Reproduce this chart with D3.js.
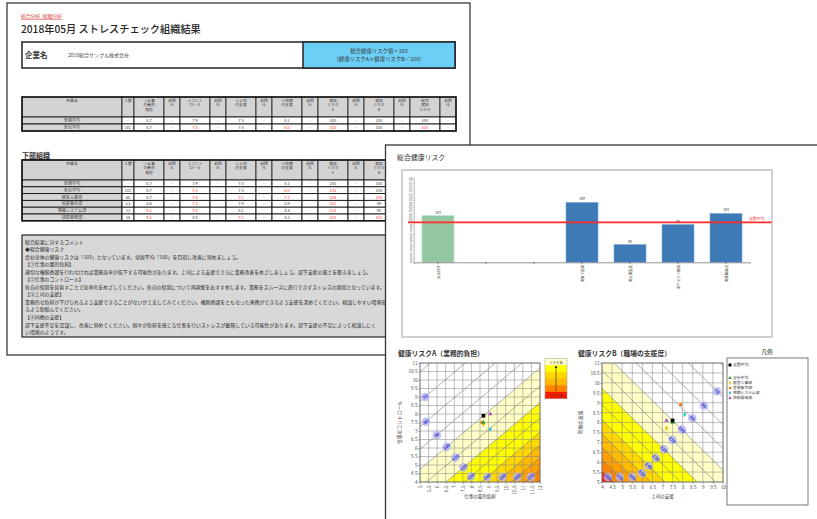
<!DOCTYPE html>
<html>
<head>
<meta charset="utf-8">
<script src="https://cdn.jsdelivr.net/npm/d3@7"></script>
<style>
  body { margin: 0; background: #ffffff; }
  svg { display: block; font-family: "Noto Sans CJK JP", "Noto Sans", sans-serif; }
</style>
</head>
<body>
<svg id="chart" width="817" height="519"></svg>
<script>
// ---------------- data ----------------
const breadcrumb = "総合分析_組織分析";
const reportTitle = "2018年05月 ストレスチェック組織結果";
const companyName = "2018総合サンプル株式会社";
const companyRisk = 103;

const groups = ["全国平均", "全社平均", "経営人事部", "営業販売部", "情報システム部", "技術開発部"];
const headcount = ["-", "102", "60", "13", "13", "16"];
const demand = [8.7, 8.7, 8.7, 8.6, 9.1, 9.1];       // ①仕事の量的負担
const control = [7.9, 7.5, 7.4, 7.5, 7.1, 8.0];      // ②コントロール
const supervisor = [7.5, 7.5, 7.2, 7.9, 8.1, 7.2];   // ③上司の支援
const coworker = [8.1, 8.0, 7.7, 8.9, 8.4, 8.1];     // ④同僚の支援
const riskA = [100, 103, 104, 102, 110, 103];
const riskB = [100, 100, 105, 89, 90, 102];
const riskTotal = [100, 103, 109, 90, 99, 104];

const headerLines = [
  ["所属名"], ["人数"], ["①仕事", "の量的", "負担"], ["前回", "比"],
  ["②コント", "ロール"], ["前回", "比"], ["③上司", "の支援"], ["前回", "比"],
  ["④同僚", "の支援"], ["前回", "比"], ["健康", "リスク", "A"], ["前回", "比"],
  ["健康", "リスク", "B"], ["前回", "比"], ["総合", "健康", "リスク"], ["前回", "比"]
];

const commentLines = [
  "総合結果に対するコメント",
  "◆総合健康リスク",
  "会社全体の健康リスクは「103」となっています。全国平均「100」を目指し改善に努めましょう。",
  "【①仕事の量的負担】",
  "適切な権限委譲を行わなければ業務効率が低下する可能性があります。上司による支援でさらに業務改善をめざしましょう。部下支援の風土を築きましょう。",
  "【②仕事のコントロール】",
  "各自の役割を見直すことで効率化をめざしてください。各自の役割について再調整をおすすめします。業務をスムーズに遂行できずストレスの原因となっています。",
  "【③上司の支援】",
  "業務的な負担が下げられるよう支援できることがないか工夫してみてください。権限委譲をともなった連携ができるよう支援を深めてください。相談しやすい環境をつく",
  "るよう取組んでください。",
  "【④同僚の支援】",
  "部下支援不足を認識し、改善に努めてください。個々が負担を感じる仕事を行いストレスが蓄積している可能性があります。部下支援の不足によって相談しにく",
  "い環境のようです。"
];

// 総合健康リスク bar chart
const barCategories = ["全社平均", "", "", "経営人事部", "営業販売部", "情報システム部", "技術開発部"];
const barTickValues = d3.range(82, 121, 1);
const nationalLevel = 100;

// stress judgement charts
const riskCoefA = { demand: 0.076, control: 0.089 };
const riskCoefB = { supervisor: 0.097, coworker: 0.097 };
const bandLevels = [100, 120, 140, 150, 160, 170, 180];
const isoLevels = [50, 60, 70, 80, 90, 100, 110, 120, 130, 140, 150, 160, 170, 180, 190, 200];
const isoLabelLevels = [70, 80, 90, 100, 110, 120, 130, 140, 150, 160, 170, 180];
const ticksA_x = d3.range(5, 12.001, 0.5);
const ticksA_y = d3.range(4, 11.001, 0.5);
const ticksB_x = d3.range(4, 10.001, 0.5);
const ticksB_y = d3.range(5, 11.001, 0.5);

// ---------------- styles ----------------
const FONT = '"Noto Sans CJK JP", "Noto Sans", sans-serif';
const bandColors = ["#ffffc6", "#ffff00", "#ffd800", "#ffbb00", "#ff9f00", "#ff8400", "#ff1a00"];
const groupColors = ["#000000", "#2e9a3e", "#e8c000", "#f07a1e", "#2cc3e6", "#b04cc8"];
const groupSymbols = [d3.symbolSquare, d3.symbolTriangle, d3.symbolDiamond, d3.symbolSquare, d3.symbolDiamond, d3.symbolTriangle];

const svg = d3.select("#chart");

// ================= back page: organisation report =================
const p1 = svg.append("g");
p1.append("rect").attr("x", 7).attr("y", 3).attr("width", 463).attr("height", 352)
  .attr("fill", "#ffffff").attr("stroke", "#3a3a3a").attr("stroke-width", 1.3);

p1.append("text").attr("x", 21).attr("y", 18).attr("font-size", 4.8).attr("fill", "#e23a3a")
  .attr("text-decoration", "underline").text(breadcrumb);
p1.append("text").attr("x", 21).attr("y", 33).attr("font-size", 10.2).attr("font-weight", 500)
  .attr("fill", "#262626").text(reportTitle);

// company box
p1.append("rect").attr("x", 22).attr("y", 42).attr("width", 433).attr("height", 26)
  .attr("fill", "#ffffff").attr("stroke", "#222").attr("stroke-width", 1.5);
p1.append("rect").attr("x", 303).attr("y", 42).attr("width", 152).attr("height", 26)
  .attr("fill", "#6ccff6").attr("stroke", "#222").attr("stroke-width", 1.5);
p1.append("text").attr("x", 25).attr("y", 58).attr("font-size", 7.5).attr("font-weight", 700)
  .attr("fill", "#333").text("企業名");
p1.append("text").attr("x", 68).attr("y", 57).attr("font-size", 5).attr("fill", "#444").text(companyName);
p1.append("text").attr("x", 379).attr("y", 53).attr("text-anchor", "middle").attr("font-size", 5.4)
  .attr("fill", "#333").text(`総合健康リスク値 = ${companyRisk}`);
p1.append("text").attr("x", 379).attr("y", 61).attr("text-anchor", "middle").attr("font-size", 5.4)
  .attr("fill", "#333").text("(健康リスクA×健康リスクB／100)");

// tables
const scoreCols = [
  { vals: demand, worse: 1, dec: 1 },
  { vals: control, worse: -1, dec: 1 },
  { vals: supervisor, worse: -1, dec: 1 },
  { vals: coworker, worse: -1, dec: 1 },
  { vals: riskA, worse: 1, dec: 0 },
  { vals: riskB, worse: 1, dec: 0 },
  { vals: riskTotal, worse: 1, dec: 0 }
];
function rowCells(i) {
  const cells = [{ t: groups[i] }, { t: headcount[i] }];
  scoreCols.forEach(c => {
    const v = c.vals[i];
    cells.push({ t: v.toFixed(c.dec), red: i > 0 && (v - c.vals[0]) * c.worse > 0 });
    cells.push({ t: "-" });
  });
  return cells;
}
const colW = [100, 12];
for (let k = 0; k < 7; k++) colW.push(30, 16);
const colX = [22];
colW.forEach(w => colX.push(colX[colX.length - 1] + w));

function drawTable(top, headH, rowH, rows) {
  const g = p1.append("g");
  headerLines.forEach((lines, j) => {
    g.append("rect").attr("x", colX[j]).attr("y", top).attr("width", colW[j]).attr("height", headH)
      .attr("fill", "#d3d3d3").attr("stroke", "#1c1c1c").attr("stroke-width", 0.8);
    lines.forEach((s, k) => g.append("text").attr("x", colX[j] + colW[j] / 2).attr("y", top + 4.6 + k * 4.6)
      .attr("text-anchor", "middle").attr("font-size", 3.8).attr("fill", "#3a3a3a").text(s));
  });
  rows.forEach((ri, r) => {
    const y0 = top + headH + r * rowH;
    rowCells(ri).forEach((c, j) => {
      g.append("rect").attr("x", colX[j]).attr("y", y0).attr("width", colW[j]).attr("height", rowH)
        .attr("fill", j === 0 ? "#d6d6d6" : "#ffffff").attr("stroke", "#111").attr("stroke-width", 0.9);
      g.append("text").attr("x", colX[j] + colW[j] / 2).attr("y", y0 + rowH / 2 + 1.5)
        .attr("text-anchor", "middle").attr("font-size", 4.1)
        .attr("fill", c.red ? "#ff2a2a" : "#3a3a3a").text(c.t);
    });
  });
  g.append("rect").attr("x", colX[0]).attr("y", top).attr("width", colX[colX.length - 1] - colX[0])
    .attr("height", headH + rows.length * rowH).attr("fill", "none").attr("stroke", "#111").attr("stroke-width", 1.5);
}
drawTable(97, 20, 7, [0, 1]);
p1.append("text").attr("x", 22).attr("y", 158).attr("font-size", 7).attr("font-weight", 700)
  .attr("fill", "#333").attr("text-decoration", "underline").text("下部組織");
drawTable(160, 20, 6.8, d3.range(groups.length));

// comment box
p1.append("rect").attr("x", 22).attr("y", 235).attr("width", 433).attr("height", 102)
  .attr("fill", "#d8d8d8").attr("stroke", "#333").attr("stroke-width", 1.3);
p1.selectAll("text.cmt").data(commentLines).join("text").attr("class", "cmt")
  .attr("x", 25).attr("y", (d, i) => 243.5 + i * 7.55).attr("font-size", 4.9).attr("fill", "#2a2a2a").text(d => d);

// ================= front page: charts =================
const p2 = svg.append("g");
p2.append("rect").attr("x", 385.5).attr("y", 145).attr("width", 440).attr("height", 390)
  .attr("fill", "#ffffff").attr("stroke", "#333").attr("stroke-width", 1.3);
p2.append("text").attr("x", 397).attr("y", 160).attr("font-size", 6.9).attr("fill", "#333").text("総合健康リスク");

// ---- bar chart ----
p2.append("rect").attr("x", 402).attr("y", 170).attr("width", 370).attr("height", 167)
  .attr("fill", "#ffffff").attr("stroke", "#c4c4c4").attr("stroke-width", 1.6);

const bx = d3.scaleBand().domain(d3.range(barCategories.length)).range([414, 750])
  .paddingInner(1 / 3).paddingOuter(1 / 6);
const by = d3.scaleLinear().domain([82, 120]).range([262.3, 178]);
const barValues = barCategories.map(c => c ? riskTotal[groups.indexOf(c)] : null);

const yAx = p2.append("g").attr("transform", "translate(414,0)")
  .call(d3.axisLeft(by).tickValues(barTickValues).tickSize(1.5).tickFormat(d => d));
yAx.attr("font-size", 1.9).attr("font-family", FONT);
yAx.selectAll("text").attr("fill", "#555").attr("x", -2);
yAx.selectAll("line,path").attr("stroke", "#999").attr("stroke-width", 0.5);

const barG = p2.append("g");
barG.selectAll("rect").data(barValues.map((v, i) => ({ v, i })).filter(d => d.v != null)).join("rect")
  .attr("x", d => bx(d.i)).attr("width", bx.bandwidth())
  .attr("y", d => by(d.v)).attr("height", d => by(82) - by(d.v))
  .attr("fill", d => d.i === 0 ? "#93c7a2" : "#3e7bb6")
  .attr("stroke", d => d.i === 0 ? "#b5dcc0" : "#79a9d6").attr("stroke-width", 0.6);
barG.selectAll("text").data(barValues.map((v, i) => ({ v, i })).filter(d => d.v != null)).join("text")
  .attr("x", d => bx(d.i) + bx.bandwidth() / 2).attr("y", d => by(d.v) - 2)
  .attr("text-anchor", "middle").attr("font-size", 3.4).attr("fill", "#333").text(d => d.v);

const xAx = p2.append("g").attr("transform", `translate(0,${by(82)})`)
  .call(d3.axisBottom(bx).tickSize(1.5).tickFormat(i => barCategories[i]));
xAx.attr("font-size", 3.4).attr("font-family", FONT);
xAx.select("path.domain").attr("stroke", "#888").attr("stroke-width", 0.9);
xAx.selectAll("line").attr("stroke", "#666");
xAx.selectAll("text").attr("fill", "#333").attr("transform", "rotate(90)")
  .attr("text-anchor", "start").attr("x", 3).attr("y", 0).attr("dy", "0.35em");

// national level line
p2.append("line").attr("x1", 408).attr("x2", 771.5).attr("y1", by(nationalLevel)).attr("y2", by(nationalLevel))
  .attr("stroke", "#ff2b2b").attr("stroke-width", 1.8);
p2.append("text").attr("x", 749).attr("y", by(nationalLevel) - 2).attr("font-size", 3.8)
  .attr("fill", "#ff2b2b").text("全国平均");

// ---- stress judgement charts ----
function riskPlot(cfg) {
  const g = p2.append("g");
  const x = d3.scaleLinear().domain(cfg.xDomain).range(cfg.xRange);
  const y = d3.scaleLinear().domain(cfg.yDomain).range(cfg.yRange);
  const [x0, x1] = cfg.xDomain, [y0, y1] = cfg.yDomain;
  const box = [[x0, y0], [x1, y0], [x1, y1], [x0, y1]];
  const f = (p, L) => cfg.a * p[0] + cfg.b * p[1] + cfg.c - Math.log(L / 100);
  const px = p => [x(p[0]), y(p[1])];

  function clipAbove(poly, L) {
    const out = [];
    for (let i = 0; i < poly.length; i++) {
      const P = poly[i], Q = poly[(i + 1) % poly.length];
      const fp = f(P, L), fq = f(Q, L);
      if (fp >= 0) out.push(P);
      if ((fp >= 0) !== (fq >= 0)) {
        const t = fp / (fp - fq);
        out.push([P[0] + t * (Q[0] - P[0]), P[1] + t * (Q[1] - P[1])]);
      }
    }
    return out;
  }
  function crossings(path, L, closed) {
    const out = [];
    const n = closed ? path.length : path.length - 1;
    for (let i = 0; i < n; i++) {
      const P = path[i], Q = path[(i + 1) % path.length];
      const fp = f(P, L), fq = f(Q, L);
      if ((fp >= 0) !== (fq >= 0)) {
        const t = fp / (fp - fq);
        out.push([P[0] + t * (Q[0] - P[0]), P[1] + t * (Q[1] - P[1])]);
      }
    }
    return out;
  }

  g.append("text").attr("x", cfg.titleX).attr("y", 356).attr("font-size", 6.8).attr("font-weight", 700)
    .attr("fill", "#333").text(cfg.title);

  // risk bands
  bandLevels.forEach((L, i) => {
    const poly = clipAbove(box, L);
    if (poly.length > 2) g.append("path").attr("d", d3.line()(poly.map(px)) + "Z").attr("fill", bandColors[i]);
  });
  // grid
  g.selectAll("line.gx").data(cfg.xTicks).join("line").attr("class", "gx")
    .attr("x1", d => x(d)).attr("x2", d => x(d)).attr("y1", cfg.yRange[0]).attr("y2", cfg.yRange[1])
    .attr("stroke", "#8a8a8a").attr("stroke-width", 0.55);
  g.selectAll("line.gy").data(cfg.yTicks).join("line").attr("class", "gy")
    .attr("y1", d => y(d)).attr("y2", d => y(d)).attr("x1", cfg.xRange[0]).attr("x2", cfg.xRange[1])
    .attr("stroke", "#8a8a8a").attr("stroke-width", 0.55);
  // iso-risk lines
  isoLevels.forEach(L => {
    const c = crossings(box, L, true);
    if (c.length === 2) g.append("line").attr("x1", x(c[0][0])).attr("y1", y(c[0][1]))
      .attr("x2", x(c[1][0])).attr("y2", y(c[1][1])).attr("stroke", "#7a7a7a").attr("stroke-width", 0.6);
  });
  g.append("rect").attr("x", cfg.xRange[0]).attr("y", cfg.yRange[1])
    .attr("width", cfg.xRange[1] - cfg.xRange[0]).attr("height", cfg.yRange[0] - cfg.yRange[1])
    .attr("fill", "none").attr("stroke", "#666").attr("stroke-width", 0.7);

  // iso-risk labels
  isoLabelLevels.forEach(L => {
    const p = crossings(cfg.labelPath, L, false)[0];
    const e = crossings(box, L, true);
    if (!p || e.length < 2) return;
    const a = px(e[0]), b = px(e[1]);
    let ang = Math.atan2(b[1] - a[1], b[0] - a[0]) * 180 / Math.PI;
    if (ang > 90) ang -= 180;
    if (ang < -90) ang += 180;
    const [cx, cy] = px(p);
    g.append("circle").attr("cx", cx).attr("cy", cy).attr("r", 4.3).attr("fill", "#b6b6f0").attr("opacity", 0.8);
    g.append("text").attr("transform", `translate(${cx},${cy}) rotate(${ang})`).attr("text-anchor", "middle")
      .attr("dy", "0.35em").attr("font-size", 4.4).attr("font-weight", 700).attr("fill", "#3b3bd0").text(L);
  });

  // axes
  const ax = g.append("g").attr("transform", `translate(0,${cfg.yRange[0]})`)
    .call(d3.axisBottom(x).tickValues(cfg.xTicks).tickSize(2).tickFormat(d => d));
  ax.attr("font-size", 4.6).attr("font-family", FONT);
  ax.select("path.domain").remove();
  ax.selectAll("line").attr("stroke", "#666").attr("stroke-width", 0.5);
  ax.selectAll("text").attr("fill", "#444");
  if (cfg.rotateX) ax.selectAll("text").attr("transform", "rotate(-90)").attr("text-anchor", "end")
    .attr("x", -3.5).attr("y", 0).attr("dy", "0.35em");
  else ax.selectAll("text").attr("y", 3.5);
  const ay = g.append("g").attr("transform", `translate(${cfg.xRange[0]},0)`)
    .call(d3.axisLeft(y).tickValues(cfg.yTicks).tickSize(2).tickFormat(d => d));
  ay.attr("font-size", 4.6).attr("font-family", FONT);
  ay.select("path.domain").remove();
  ay.selectAll("line").attr("stroke", "#666").attr("stroke-width", 0.5);
  ay.selectAll("text").attr("fill", "#444").attr("x", -2.5);

  g.append("text").attr("x", (cfg.xRange[0] + cfg.xRange[1]) / 2).attr("y", 498).attr("text-anchor", "middle")
    .attr("font-size", 4.5).attr("fill", "#333").text(cfg.xTitle);
  g.append("text").attr("transform", `translate(${cfg.yTitleX},${(cfg.yRange[0] + cfg.yRange[1]) / 2}) rotate(-90)`)
    .attr("text-anchor", "middle").attr("font-size", 4.8).attr("fill", "#333").text(cfg.yTitle);

  // groups
  const order = d3.range(groups.length).reverse();
  g.selectAll("path.pt").data(order).join("path").attr("class", "pt")
    .attr("transform", i => `translate(${x(cfg.xVals[i])},${y(cfg.yVals[i])})`)
    .attr("d", i => d3.symbol().type(groupSymbols[i]).size(i === 0 ? 14 : 8)())
    .attr("fill", i => groupColors[i]);
}

riskPlot({
  title: "健康リスクA（業務的負担）", titleX: 398,
  xDomain: [5, 12], yDomain: [4, 11], xRange: [420, 540], yRange: [482, 363],
  xTicks: ticksA_x, yTicks: ticksA_y, rotateX: true,
  a: riskCoefA.demand, b: -riskCoefA.control,
  c: -riskCoefA.demand * demand[0] + riskCoefA.control * control[0],
  xVals: demand, yVals: control,
  labelPath: [[5.3, 11], [5.3, 7.6], [8.0, 4.3], [12, 4.3]],
  xTitle: "仕事の量的負担", yTitle: "仕事のコントロール", yTitleX: 401
});
riskPlot({
  title: "健康リスクB（職場の支援度）", titleX: 578,
  xDomain: [4, 10], yDomain: [5, 11], xRange: [602, 723], yRange: [482, 363],
  xTicks: ticksB_x, yTicks: ticksB_y, rotateX: false,
  a: -riskCoefB.supervisor, b: -riskCoefB.coworker,
  c: riskCoefB.supervisor * supervisor[0] + riskCoefB.coworker * coworker[0],
  xVals: supervisor, yVals: coworker,
  labelPath: [[10, 9.9], [5.8, 5.25], [4, 5.25]],
  xTitle: "上司の支援", yTitle: "同僚の支援", yTitleX: 582
});

// risk colour key
const keyG = p2.append("g");
const keyY = d3.scaleBand().domain(d3.range(6)).range([358.5, 398.5]);
const keyColors = [bandColors[0], bandColors[1], bandColors[2], bandColors[3], bandColors[5], bandColors[6]];
keyG.selectAll("rect").data(d3.range(6)).join("rect")
  .attr("x", 545).attr("y", i => keyY(i)).attr("width", 22).attr("height", keyY.bandwidth() + 0.3)
  .attr("fill", i => keyColors[i]);
keyG.append("rect").attr("x", 545).attr("y", 358.5).attr("width", 22).attr("height", 40)
  .attr("fill", "none").attr("stroke", "#999").attr("stroke-width", 0.5);
keyG.append("text").attr("x", 556).attr("y", 363.5).attr("text-anchor", "middle").attr("font-size", 3.4)
  .attr("fill", "#444").text("リスク低");
keyG.append("text").attr("x", 556).attr("y", 396.5).attr("text-anchor", "middle").attr("font-size", 3.4)
  .attr("fill", "#333").text("リスク高");
keyG.append("line").attr("x1", 556).attr("x2", 556).attr("y1", 366).attr("y2", 391)
  .attr("stroke", "#222").attr("stroke-width", 0.6);
keyG.append("path").attr("d", "M554.6,368 L556,365.5 L557.4,368 Z").attr("fill", "#222");

// legend
const lg = p2.append("g");
lg.append("text").attr("x", 767).attr("y", 354).attr("text-anchor", "middle").attr("font-size", 5.6)
  .attr("fill", "#333").text("凡例");
lg.append("rect").attr("x", 727).attr("y", 358).attr("width", 81).attr("height", 147)
  .attr("fill", "#ffffff").attr("stroke", "#555").attr("stroke-width", 0.8);
const legendY = [365, 378, 383, 388, 393, 398];
groups.forEach((name, i) => {
  lg.append("path").attr("transform", `translate(730,${legendY[i]})`)
    .attr("d", d3.symbol().type(groupSymbols[i]).size(i === 0 ? 9 : 5)()).attr("fill", groupColors[i]);
  lg.append("text").attr("x", 733).attr("y", legendY[i] + 1.3).attr("font-size", 3.8)
    .attr("fill", "#333").text(name);
});
</script>
</body>
</html>
